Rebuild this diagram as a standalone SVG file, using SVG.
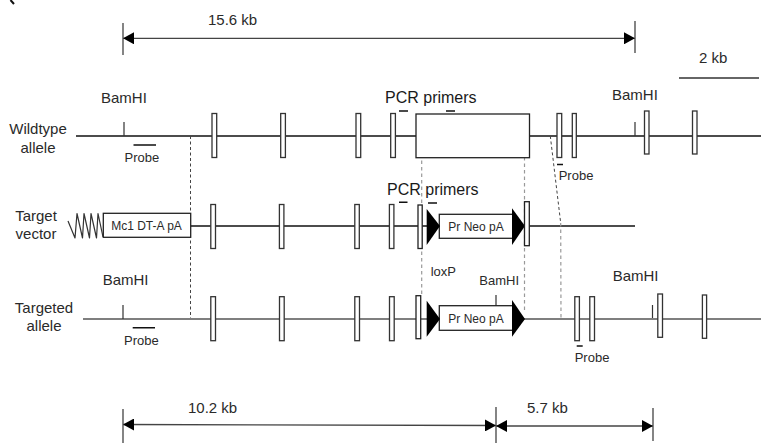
<svg xmlns="http://www.w3.org/2000/svg" width="761" height="444" viewBox="0 0 761 444">
<style>
text{font-family:"Liberation Sans",Arial,sans-serif;fill:#2a2a2a;font-size:15px}
.s13{font-size:13px}.s12{font-size:12px}.s16{font-size:16px;fill:#1a1a1a}.m{text-anchor:middle}
.ln{fill:none;stroke:#111;stroke-width:1.6}
.g{fill:none;stroke:#555;stroke-width:1.6}
.t{fill:none;stroke:#333;stroke-width:1.2}
.dim{fill:none;stroke:#444;stroke-width:1.3}
.d{fill:none;stroke:#444;stroke-width:1;stroke-dasharray:3 2.5}
.dl{fill:none;stroke:#999;stroke-width:1.2;stroke-dasharray:3.5 3}
.ex{fill:#fff;stroke:#333;stroke-width:1.3}
.box{fill:#fff;stroke:#222;stroke-width:1.3}
.bar{fill:none;stroke:#111;stroke-width:1.6}
.tri{fill:#000;stroke:none}
</style>
<defs>
<marker id="ah" markerUnits="userSpaceOnUse" markerWidth="12" markerHeight="12" refX="11" refY="6" orient="auto-start-reverse"><path d="M0 0L11 6L0 12Z" fill="#000"/></marker>
</defs>

<path d="M10.5 0L14 4" fill="none" stroke="#111" stroke-width="2"/>

<g id="connectors">
<path class="ln" d="M76 136H761"/>
<path class="ln" d="M190 226H635"/>
<path class="g" d="M83 319H761"/>
<path class="d" d="M190.5 136V318"/>
<path class="dl" d="M421.7 115V295"/>
<path class="dl" d="M524.5 157V313"/>
<path class="d" d="M550.3 136L560.7 223"/>
<path class="dl" d="M560.7 223L561 318"/>
<path class="dim" d="M123 38.3H635" marker-start="url(#ah)" marker-end="url(#ah)"/>
<path class="dim" d="M123 23V55M635 21V53"/>
<path class="dim" d="M123 424.5L496 425.5" marker-start="url(#ah)" marker-end="url(#ah)"/>
<path class="dim" d="M496 426H653" marker-start="url(#ah)" marker-end="url(#ah)"/>
<path class="dim" d="M123 409V443M496 407V443M653 408V441"/>
<path d="M679 78H759" fill="none" stroke="#666" stroke-width="2"/>
<path class="t" d="M124 122V136M635 122V136M123 305V319M652.5 305V318M496 295V306"/>
</g>

<g id="scale-labels">
<text x="208" y="25">15.6 kb</text>
<text x="699" y="63">2 kb</text>
<text x="188" y="413">10.2 kb</text>
<text x="527" y="413">5.7 kb</text>
</g>

<g id="wildtype-allele">
<text class="m" x="38" y="134">Wildtype</text>
<text class="m" x="38" y="153">allele</text>
<text x="101" y="103">BamHI</text>
<text x="612" y="100">BamHI</text>
<text class="s16" x="385" y="103">PCR primers</text>
<path class="bar" d="M133.5 145H156M399 111H408M446 111H455M557 164.5H563"/>
<text class="s13" x="124.5" y="162">Probe</text>
<text class="s13" x="558.7" y="180">Probe</text>
<rect class="ex" x="212" y="113.5" width="4.7" height="44"/>
<rect class="ex" x="280.7" y="113.5" width="4.7" height="44"/>
<rect class="ex" x="356" y="113.5" width="4.7" height="44"/>
<rect class="ex" x="390.7" y="113.5" width="4.7" height="44"/>
<rect class="box" x="416" y="114" width="113.5" height="43.7"/>
<rect class="ex" x="557" y="113.5" width="4.7" height="44"/>
<rect class="ex" x="572.3" y="113.5" width="4" height="44"/>
<rect class="ex" x="644.5" y="111" width="4.5" height="43"/>
<rect class="ex" x="692.5" y="111" width="4.5" height="43"/>
</g>

<g id="target-vector">
<text class="m" x="36" y="221">Target</text>
<text class="m" x="36" y="239">vector</text>
<path d="M68 221L75 238L77 213.5L82.5 238L84 213.5L89.5 238L91 213.5L96.5 238L98 213.5L103 237" fill="none" stroke="#333" stroke-width="1.2" stroke-linejoin="round"/>
<rect class="box" x="103.3" y="213.3" width="87.4" height="24"/>
<text class="s12 m" x="146.5" y="230">Mc1 DT-A pA</text>
<rect class="ex" x="210.8" y="204.5" width="4.7" height="44"/>
<rect class="ex" x="279.4" y="204.5" width="4.5" height="44"/>
<rect class="ex" x="354.8" y="204.5" width="4.5" height="44"/>
<rect class="ex" x="389.4" y="204.5" width="4.5" height="44"/>
<rect class="box" x="418" y="205" width="4.2" height="43.5"/>
<text class="s16" x="387" y="195">PCR primers</text>
<path class="bar" d="M399 202.3H407.5M428 203H437"/>
<rect class="box" x="439.3" y="214.3" width="73.4" height="24"/>
<text class="s12 m" x="476" y="231">Pr Neo pA</text>
<path class="tri" d="M426.7 209L440 226L426.7 245Z"/>
<path class="tri" d="M512 208.3L525 226L512 245Z"/>
<rect class="box" x="524.5" y="201.7" width="4.8" height="44"/>
</g>

<g id="targeted-allele">
<text class="m" x="44" y="313">Targeted</text>
<text class="m" x="44" y="331">allele</text>
<text x="102.7" y="285">BamHI</text>
<text x="612.7" y="281">BamHI</text>
<text class="s13" x="430.7" y="276">loxP</text>
<text class="s13" x="479.3" y="285">BamHI</text>
<path class="bar" d="M132.7 327.7H155M576.7 346H582.7"/>
<text class="s13" x="124" y="344.5">Probe</text>
<text class="s13" x="574.7" y="362">Probe</text>
<rect class="ex" x="210.8" y="296.7" width="4.7" height="44"/>
<rect class="ex" x="279.5" y="296.7" width="4.7" height="44"/>
<rect class="ex" x="354.8" y="296.7" width="4.7" height="44"/>
<rect class="ex" x="389.5" y="296.7" width="4.7" height="44"/>
<rect class="box" x="416" y="295.7" width="4.7" height="43"/>
<rect class="box" x="439.3" y="305.7" width="73.4" height="24.6"/>
<text class="s12 m" x="476" y="323">Pr Neo pA</text>
<path class="tri" d="M426.7 300.7L440 319L426.7 336.7Z"/>
<path class="tri" d="M512 300L525 319L512 336.7Z"/>
<rect class="ex" x="574.8" y="296.7" width="4.6" height="44"/>
<rect class="ex" x="589.8" y="296.7" width="4.7" height="44"/>
<rect class="ex" x="657.8" y="294" width="4.7" height="43.3"/>
<rect class="ex" x="702.4" y="295" width="4.2" height="43.3"/>
</g>
</svg>
